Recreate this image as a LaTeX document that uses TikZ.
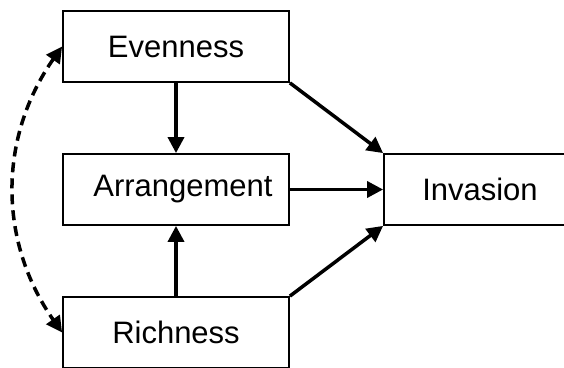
\documentclass[tikz,border=0pt]{standalone}
\usepackage{fontspec}
\setmainfont{Liberation Sans}
\usetikzlibrary{arrows.meta}

\tikzset{
  factor/.style={draw, line width=1.8pt, minimum width=226pt, minimum height=71pt,
    inner sep=0pt, font=\fontsize{31}{37}\selectfont},
  effect/.style={line width=3.5pt, -{Triangle[length=16pt,width=16pt]}},
  covary/.style={line width=3.5pt, dash pattern=on 10pt off 6pt,
    {Triangle[length=16pt,width=16pt]}-{Triangle[length=16pt,width=16pt]}}
}

\begin{document}
\begin{tikzpicture}[x=1pt,y=1pt]
\clip (0,0) rectangle (564,367);
\useasboundingbox (0,0) rectangle (564,367);
\node[factor] (even) at (176,320.5) {Evenness};
\node[factor] (arr) at (176,177.5) {\hspace*{14pt}Arrangement};
\node[factor] (rich) at (176,34.5) {Richness};
\node[factor, minimum width=192pt] (inv) at (480,177.5) {Invasion};
% direct effects
\draw[effect] (even) -- (arr);
\draw[effect] (rich) -- (arr);
\draw[effect] (arr) -- (inv);
\draw[effect] (even.south east) -- (inv.north west);
\draw[effect] (rich.north east) -- (inv.south west);
% correlation
\draw[covary] (even.west) to[bend right=35] (rich.west);
\end{tikzpicture}
\end{document}
